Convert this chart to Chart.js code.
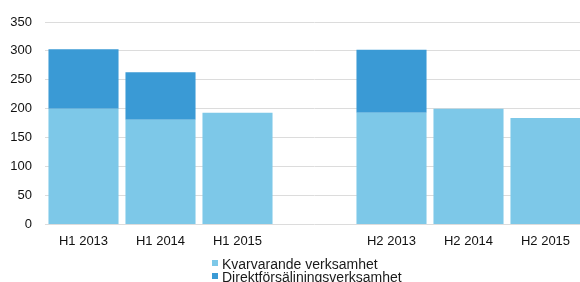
<!DOCTYPE html>
<html>
<head>
<meta charset="utf-8">
<script src="https://cdn.jsdelivr.net/npm/chart.js@4"></script>
<style>
    html, body { margin: 0; padding: 0; background: #ffffff; overflow: hidden; }
</style>
</head>
<body>
<canvas id="myChart" width="586" height="282"></canvas>
<script>
const labels = ['H1 2013', 'H1 2014', 'H1 2015', '', 'H2 2013', 'H2 2014', 'H2 2015'];
const kvarvarande = [200, 181, 193, null, 193, 200, 184];
const direktforsaljning = [103, 82, null, null, 109, null, null];
const yTicks = [0, 50, 100, 150, 200, 250, 300, 350];

const lightBlue = '#7dc8e8';
const darkBlue = '#3a9ad5';

// legend drawn below the axis, two rows, like the original
const stackedLegend = {
    id: 'stackedLegend',
    afterDraw(chart) {
        const ctx = chart.ctx;
        ctx.save();
        ctx.font = '14px "Liberation Sans", Arial, sans-serif';
        ctx.textBaseline = 'middle';
        chart.data.datasets.forEach((ds, i) => {
            const y = 263 + i * 13;
            ctx.fillStyle = ds.backgroundColor;
            ctx.fillRect(212, y - 3, 6, 6);
            ctx.fillStyle = '#1a1a1a';
            ctx.fillText(ds.label, 222, y + 2);
        });
        ctx.restore();
    }
};

Chart.defaults.font.family = '"Liberation Sans", Arial, sans-serif';
Chart.defaults.font.size = 13;
Chart.defaults.color = '#111111';

new Chart(document.getElementById('myChart'), {
    type: 'bar',
    data: {
        labels: labels,
        datasets: [
            {
                label: 'Kvarvarande verksamhet',
                data: kvarvarande,
                backgroundColor: lightBlue,
                barPercentage: 0.91,
                categoryPercentage: 1
            },
            {
                label: 'Direktförsäljningsverksamhet',
                data: direktforsaljning,
                backgroundColor: darkBlue,
                barPercentage: 0.91,
                categoryPercentage: 1
            }
        ]
    },
    options: {
        responsive: false,
        animation: false,
        layout: {
            padding: { top: 22, right: 2, bottom: 32, left: 0 }
        },
        plugins: {
            legend: { display: false },
            tooltip: { enabled: false }
        },
        scales: {
            x: {
                stacked: true,
                grid: { display: false },
                border: { display: false },
                ticks: { padding: 1, maxRotation: 0, autoSkip: false }
            },
            y: {
                stacked: true,
                min: 0,
                max: 350,
                afterBuildTicks: (axis) => {
                    axis.ticks = yTicks.map(v => ({ value: v }));
                },
                afterFit: (axis) => {
                    axis.width = 45;
                },
                grid: {
                    color: '#dcdcdc',
                    drawTicks: false
                },
                border: { display: false },
                ticks: { padding: 13 }
            }
        }
    },
    plugins: [stackedLegend]
});
</script>
</body>
</html>
